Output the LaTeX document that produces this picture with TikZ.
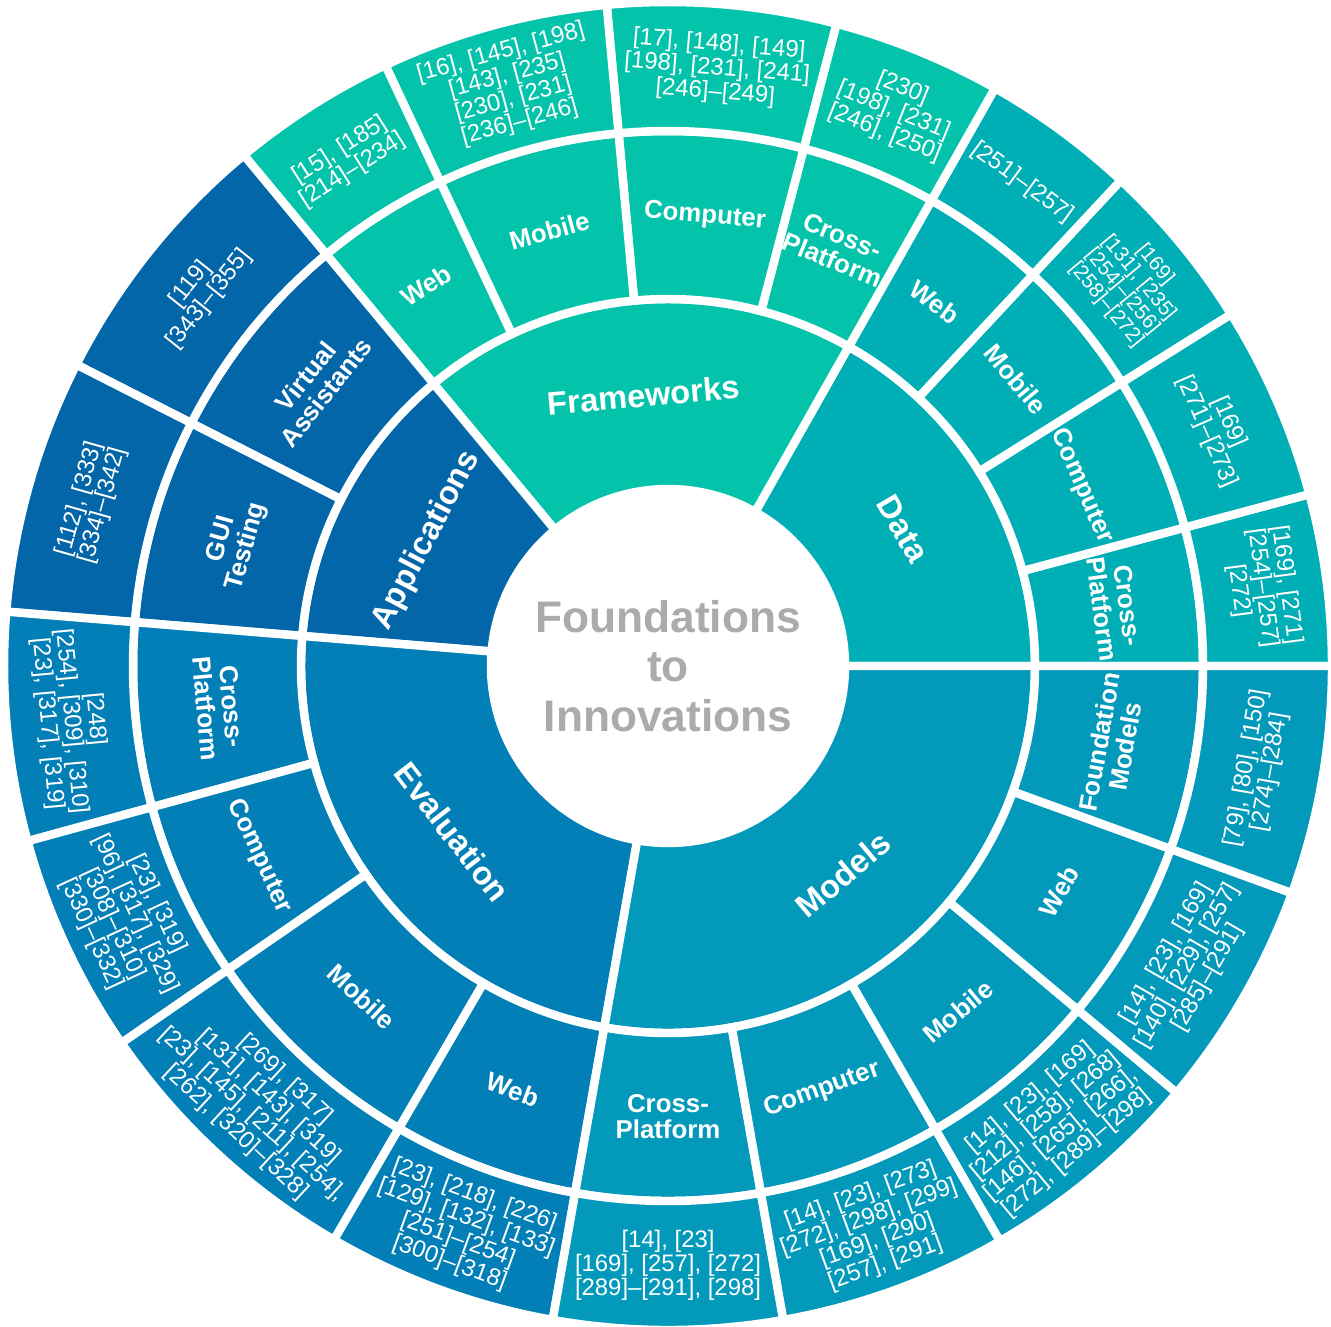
\documentclass[tikz,border=0pt]{standalone}
\usepackage{fontspec}
\setmainfont{Liberation Sans}
\definecolor{dats}{RGB}{0,174,182}
\definecolor{fwks}{RGB}{3,195,170}
\definecolor{apps}{RGB}{2,102,168}
\definecolor{evals}{RGB}{1,127,182}
\definecolor{mods}{RGB}{2,153,187}
\definecolor{hubgrey}{RGB}{171,171,171}

\def\rzero{177}
\def\rone{367}
\def\rtwo{535}
\def\rthree{664}

\pgfdeclarelayer{labels}
\pgfsetlayers{main,labels}

\tikzset{
  gap/.style={draw=white, line width=4.8pt},
  cat/.style={text=white, font=\fontsize{18.6}{20}\selectfont\bfseries, align=center, inner sep=0pt},
  sub/.style={text=white, font=\fontsize{14.7}{14.8}\selectfont\bfseries, align=center, inner sep=0pt},
  refs/.style={text=white, font=\fontsize{13.6}{12.5}\selectfont, align=center, inner sep=0pt},
  tightrefs/.style={refs, font=\fontsize{11.8}{10.8}\selectfont},
}

\newcommand{\sunslice}[8]{%
  \pgfmathsetmacro\midang{(#4+#5)/2}
  \pgfmathsetmacro\midrad{(#2+#3)/2}
  \pgfmathsetmacro\txtrot{\midang>180 ? \midang-270 : \midang-90}
  \filldraw[fill=#1, gap] (#4:#2) -- (#4:#3) arc[start angle=#4, end angle=#5, radius=#3]
    -- (#5:#2) arc[start angle=#5, end angle=#4, radius=#2] -- cycle;
  \begin{pgfonlayer}{labels}
    \node[#6, rotate=\txtrot] (#7) at (\midang:\midrad) {#8};
  \end{pgfonlayer}
}

\begin{document}
\begin{tikzpicture}[x=0.02cm, y=0.02cm]
\useasboundingbox (-668,-660) rectangle (663,666);

% categories
\foreach \angA/\angB/\col/\nm/\txt in {0/60.5/dats/dat/Data, 60.5/129.7/fwks/fwk/Frameworks,
    129.7/175.3/apps/app/Applications, 175.3/260/evals/eva/Evaluation, 260/360/mods/mod/Models}{
  \sunslice{\col}{\rzero}{\rone}{\angA}{\angB}{cat}{\nm}{\txt}
}

% platforms
\foreach \angA/\angB/\col/\nm/\txt in {
    0/15/dats/dat-cp/{Cross-\\Platform}, 15/32/dats/dat-co/Computer,
    32/47/dats/dat-mo/Mobile, 47/60.5/dats/dat-we/Web,
    60.5/75.3/fwks/fwk-cp/{Cross-\\Platform}, 75.3/95.3/fwks/fwk-co/Computer,
    95.3/115.2/fwks/fwk-mo/Mobile, 115.2/129.7/fwks/fwk-we/Web,
    129.7/153/apps/app-va/{Virtual\\Assistants}, 153/175.3/apps/app-gt/{GUI\\Testing},
    175.3/195.3/evals/eva-cp/{Cross-\\Platform}, 195.3/214.6/evals/eva-co/Computer,
    214.6/239.8/evals/eva-mo/Mobile, 239.8/260/evals/eva-we/Web,
    260/280/mods/mod-cp/{Cross-\\Platform}, 280/300/mods/mod-co/Computer,
    300/320/mods/mod-mo/Mobile, 320/340/mods/mod-we/Web,
    340/360/mods/mod-fm/{Foundation\\Models}}{
  \sunslice{\col}{\rone}{\rtwo}{\angA}{\angB}{sub}{\nm}{\txt}
}

% references
\foreach \angA/\angB/\col/\sty/\nm/\txt in {
    0/15/dats/refs/dat-cp-r/{[169], [271]\\{}[254]–[257]\\{}[272]},
    15/32/dats/refs/dat-co-r/{[169]\\{}[271]–[273]},
    32/47/dats/tightrefs/dat-mo-r/{[169]\\{}[131], [235]\\{}[254]–[256]\\{}[258]–[272]},
    47/60.5/dats/refs/dat-we-r/{[251]–[257]},
    60.5/75.3/fwks/refs/fwk-cp-r/{[230]\\{}[198], [231]\\{}[246], [250]},
    75.3/95.3/fwks/refs/fwk-co-r/{[17], [148], [149]\\{}[198], [231], [241]\\{}[246]–[249]},
    95.3/115.2/fwks/refs/fwk-mo-r/{[16], [145], [198]\\{}[143], [235]\\{}[230], [231]\\{}[236]–[246]},
    115.2/129.7/fwks/refs/fwk-we-r/{[15], [185]\\{}[214]–[234]},
    129.7/153/apps/refs/app-va-r/{[119]\\{}[343]–[355]},
    153/175.3/apps/refs/app-gt-r/{[112], [333]\\{}[334]–[342]},
    175.3/195.3/evals/refs/eva-cp-r/{[248]\\{}[254], [309], [310]\\{}[23], [317], [319]},
    195.3/214.6/evals/refs/eva-co-r/{[23], [319]\\{}[96], [317], [329]\\{}[308]–[310]\\{}[330]–[332]},
    214.6/239.8/evals/refs/eva-mo-r/{[269], [317]\\{}[131], [143], [319]\\{}[23], [145], [211], [254],\\{}[262], [320]–[328]},
    239.8/260/evals/refs/eva-we-r/{[23], [218], [226]\\{}[129], [132], [133]\\{}[251]–[254]\\{}[300]–[318]},
    260/280/mods/refs/mod-cp-r/{[14], [23]\\{}[169], [257], [272]\\{}[289]–[291], [298]},
    280/300/mods/refs/mod-co-r/{[14], [23], [273]\\{}[272], [298], [299]\\{}[169], [290]\\{}[257], [291]},
    300/320/mods/refs/mod-mo-r/{[14], [23], [169]\\{}[212], [258], [268]\\{}[146], [265], [266],\\{}[272], [289]–[298]},
    320/340/mods/refs/mod-we-r/{[14], [23], [169]\\{}[140], [229], [257]\\{}[285]–[291]},
    340/360/mods/refs/mod-fm-r/{[79], [80], [150]\\{}[274]–[284]}}{
  \sunslice{\col}{\rtwo}{\rthree}{\angA}{\angB}{\sty}{\nm}{\txt}
}

\node[text=hubgrey, font=\fontsize{25.2}{28.3}\selectfont\bfseries, align=center] (hub) at (0,0) {Foundations\\to\\Innovations};

\end{tikzpicture}
\end{document}
